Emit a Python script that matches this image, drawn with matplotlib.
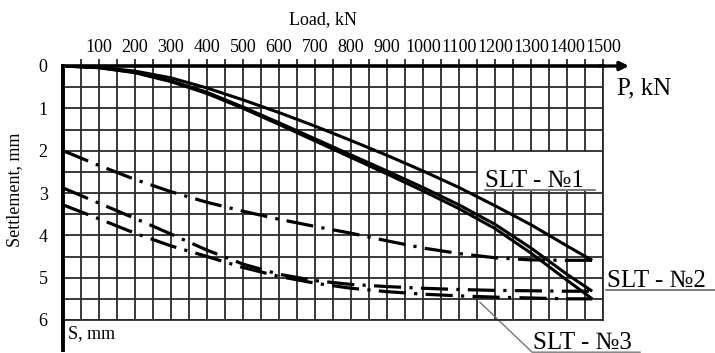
import numpy as np
import matplotlib
matplotlib.use('Agg')
from matplotlib import pyplot as plt
from matplotlib.patches import Rectangle

# loading curves (solid) and the dash-dot curves, load in kN, settlement in mm
load = [0, 100, 200, 300, 400, 500, 600, 700, 800, 900, 1000, 1100, 1200, 1300, 1400, 1470]
slt1 = [0, 0.03, 0.12, 0.28, 0.52, 0.80, 1.10, 1.42, 1.76, 2.11, 2.48, 2.87, 3.30, 3.75, 4.25, 4.59]
slt2 = [0, 0.04, 0.15, 0.35, 0.62, 0.97, 1.34, 1.72, 2.10, 2.48, 2.87, 3.28, 3.74, 4.30, 4.92, 5.32]
slt3 = [0, 0.04, 0.16, 0.37, 0.65, 1.00, 1.38, 1.77, 2.16, 2.55, 2.95, 3.37, 3.84, 4.42, 5.06, 5.50]
dd1 = [2.00, 2.35, 2.68, 2.97, 3.22, 3.43, 3.62, 3.79, 3.95, 4.13, 4.30, 4.43, 4.53, 4.58, 4.59, 4.59]
dd2 = [2.88, 3.24, 3.60, 3.97, 4.35, 4.68, 4.92, 5.07, 5.16, 5.21, 5.25, 5.28, 5.30, 5.31, 5.32, 5.32]
dd3 = [3.28, 3.61, 3.95, 4.25, 4.50, 4.76, 4.97, 5.13, 5.25, 5.33, 5.39, 5.43, 5.46, 5.48, 5.50, 5.50]

xticks = list(range(100, 1600, 100))
yticks = [0, 1, 2, 3, 4, 5, 6]

serif = ['Liberation Serif', 'DejaVu Serif']
plt.rcParams['font.family'] = serif

W, H = 715, 353
fig = plt.figure(figsize=(W / 100, H / 100), dpi=100)
ax = fig.add_axes([63 / W, (H - 320) / H, (603 - 63) / W, (320 - 66) / H])
ax.set_xlim(0, 1500)
ax.set_ylim(6, 0)

for s in ['top', 'left']:
    ax.spines[s].set_visible(False)
for s in ['bottom', 'right']:
    ax.spines[s].set_linewidth(1.3)
    ax.spines[s].set_color('#2a2a2a')

ax.xaxis.tick_top()
ax.set_xticks(xticks)
ax.set_xticks(np.arange(50, 1500, 50), minor=True)
ax.set_xticklabels([str(t) for t in xticks], fontsize=13)
ax.set_yticks(yticks)
ax.set_yticks(np.arange(0.5, 6, 1.0), minor=True)
ax.set_yticklabels([str(t) for t in yticks], fontsize=13)
ax.tick_params(axis='x', which='both', direction='out', length=5, width=1.3,
               color='#2a2a2a', pad=2, bottom=False)
ax.tick_params(axis='y', which='both', length=0, pad=11)
ax.grid(True, which='both', color='#2a2a2a', linewidth=1.3)
ax.set_axisbelow(True)

# white patch behind the SLT - No1 label
ax.add_patch(Rectangle((1154, 2.04), 342, 0.92, facecolor='white', edgecolor='none', zorder=1))

# thick axes with arrow
ax.plot([0, 1500], [0, 0], color='black', lw=2.6, clip_on=False, zorder=3)
ax.annotate('', xy=(1572, 0), xytext=(1490, 0), xycoords='data',
            arrowprops=dict(arrowstyle='-|>', color='black', lw=2.4,
                            mutation_scale=13, shrinkA=0, shrinkB=0),
            annotation_clip=False, zorder=3)
ax.plot([0, 0], [0, 6.72], color='black', lw=2.8, clip_on=False, zorder=3)

# curves
for s in [slt1, slt2, slt3]:
    ax.plot(load, s, color='black', lw=2.2, zorder=2, solid_capstyle='butt')
for s in [dd1, dd2, dd3]:
    ax.plot(load, s, color='black', lw=2.3, zorder=2, dashes=(8.5, 2.6, 1.0, 2.6),
            dash_capstyle='butt')

# labels
fig.text(323 / W, 1 - 20 / H, 'Load, kN', ha='center', va='center', fontsize=13)
fig.text(15 / W, 1 - 190 / H, 'Settlement, mm', ha='center', va='center',
         rotation=90, fontsize=13)
fig.text(617 / W, 1 - 88 / H, 'P, kN', ha='left', va='center', fontsize=18)
fig.text(68 / W, 1 - 334 / H, 'S, mm', ha='left', va='center', fontsize=13)

lab = dict(fontsize=18, ha='left', va='baseline', family=serif)
ax.text(1172, 2.86, 'SLT - №1', **lab)
ax.plot([1172, 1478], [2.92, 2.92], color='#666', lw=1.2, clip_on=False)
ax.text(1512, 5.21, 'SLT - №2', clip_on=False, **lab)
ax.plot([1508, 1811], [5.3, 5.3], color='#666', lw=1.2, clip_on=False)
ax.text(1306, 6.69, 'SLT - №3', clip_on=False, **lab)
ax.plot([1158, 1303, 1603], [5.58, 6.76, 6.76], color='#777', lw=1.0, clip_on=False)

fig.savefig('out.png', dpi=100)
